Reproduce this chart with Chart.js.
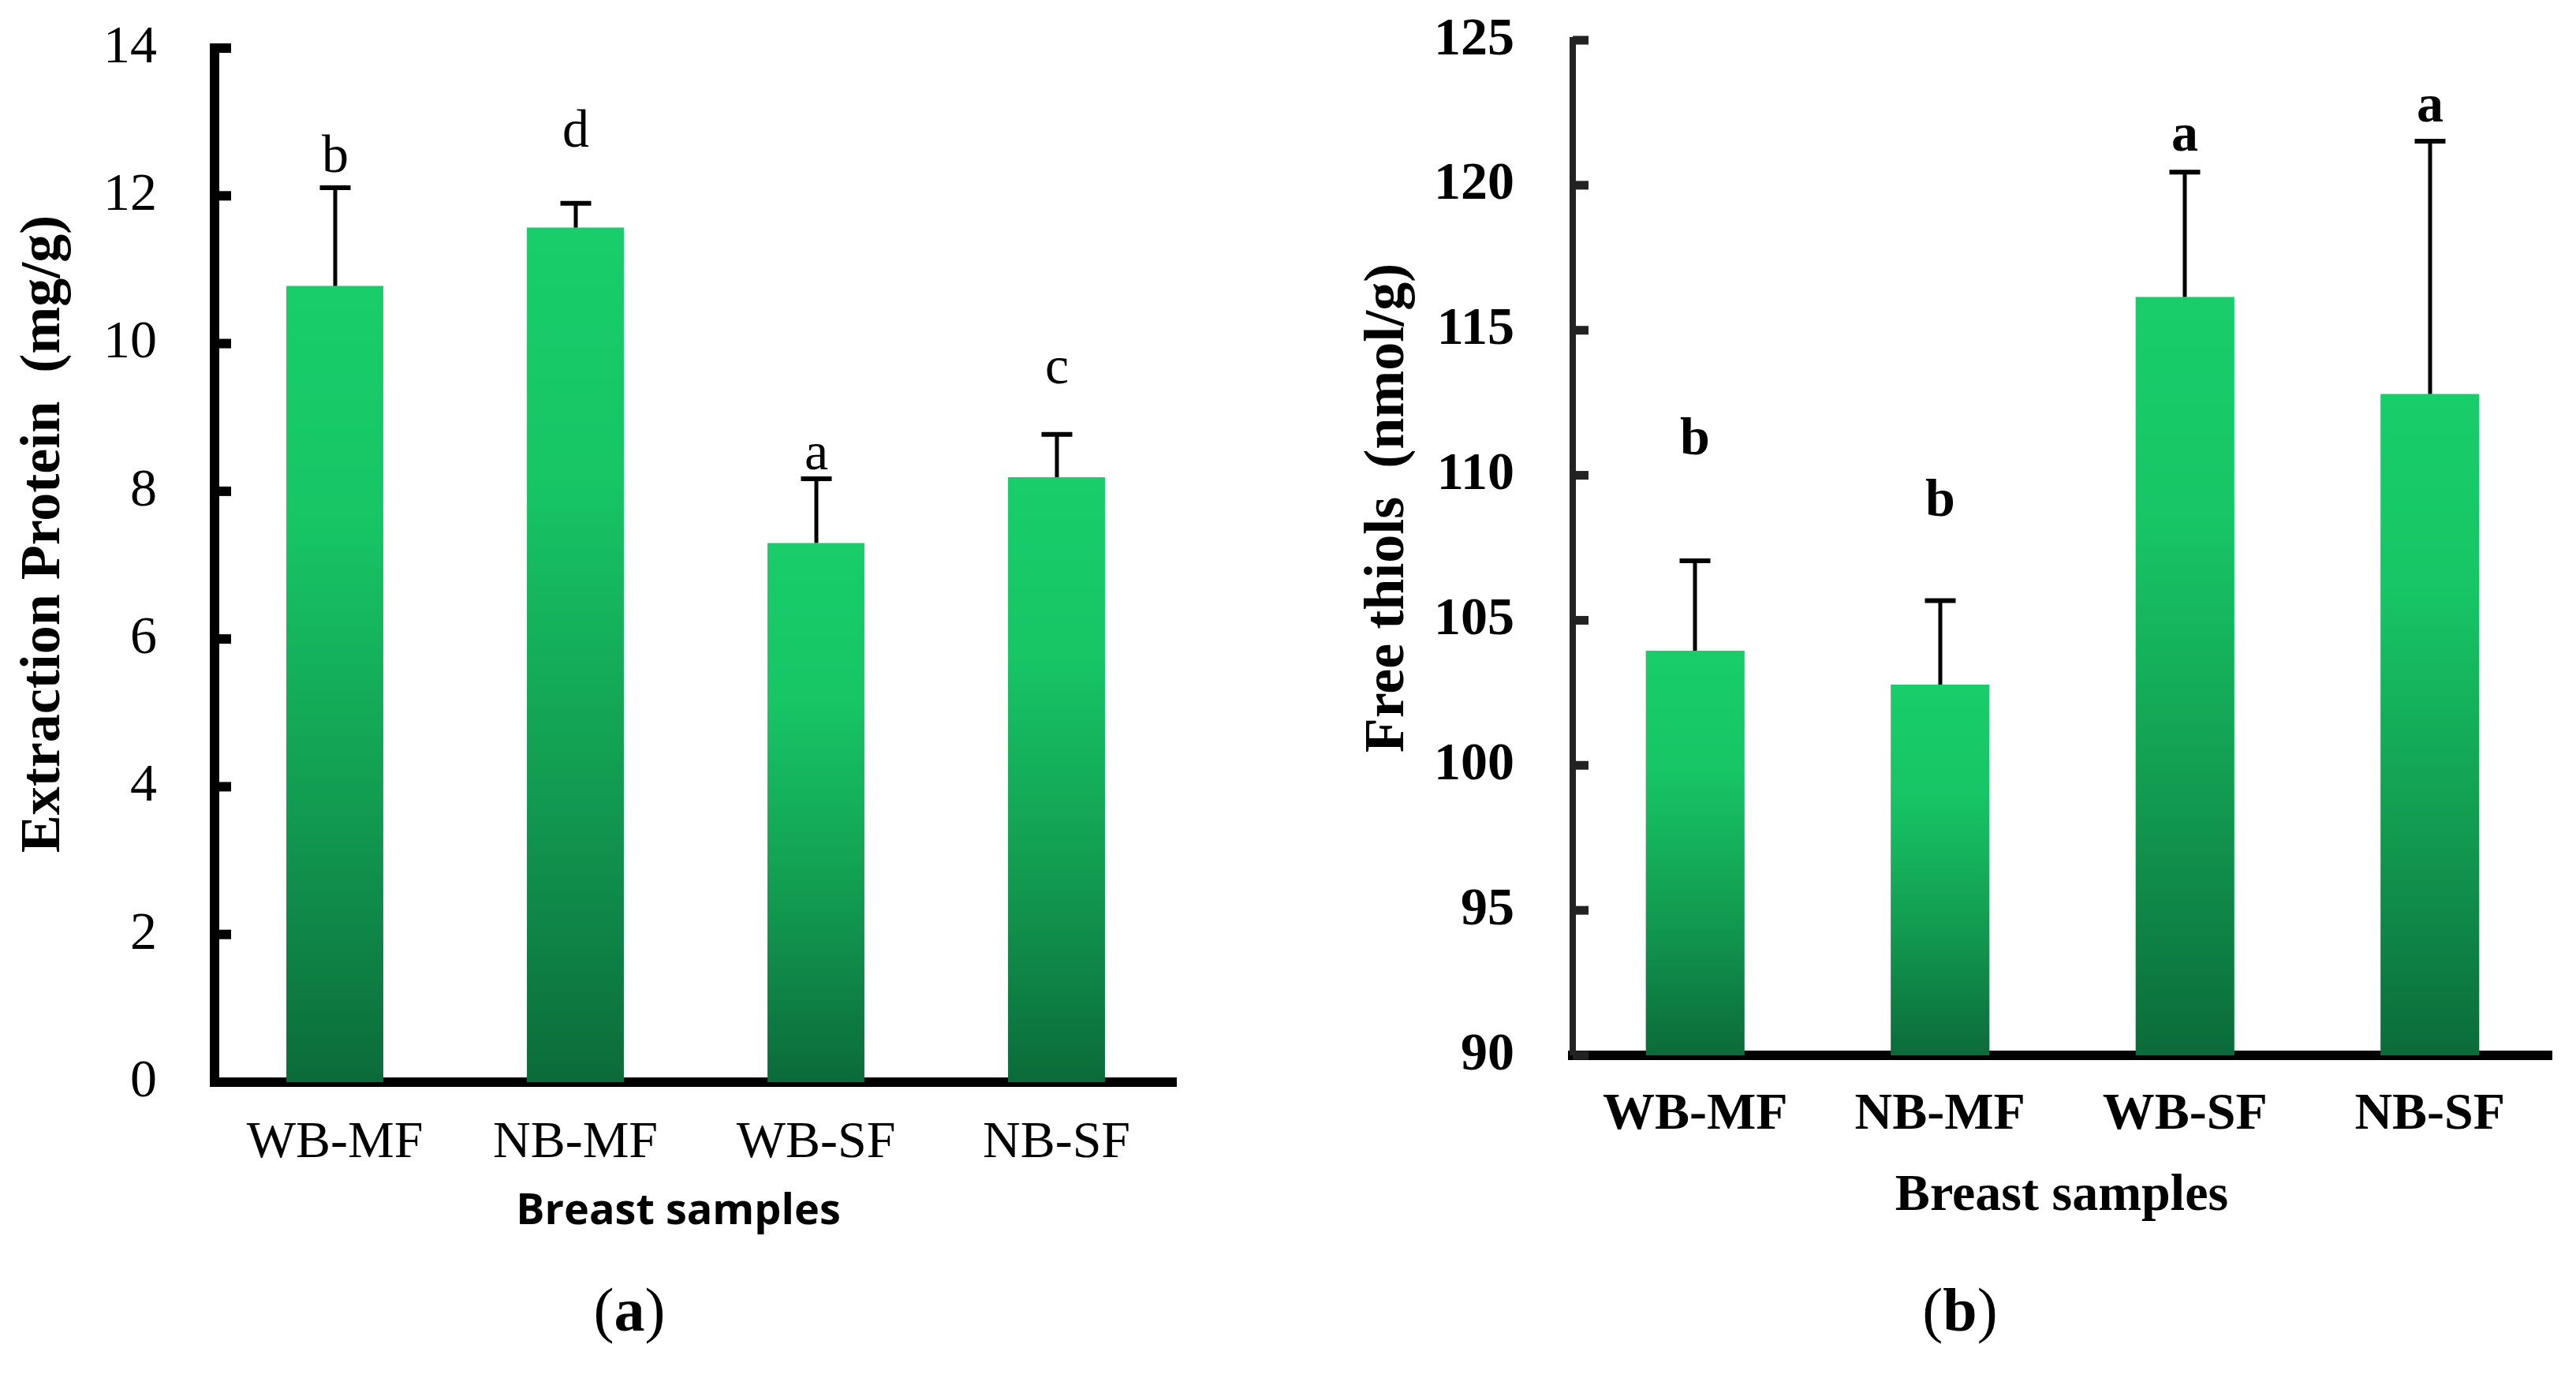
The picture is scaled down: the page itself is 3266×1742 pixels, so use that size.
<!DOCTYPE html>
<html><head><meta charset="utf-8">
<script src="https://cdn.jsdelivr.net/npm/chart.js@4.4.0/dist/chart.umd.min.js"></script>
<style>
html,body{margin:0;padding:0;background:#fff;}
#wrap{position:relative;width:3266px;height:1742px;background:#fff;}
canvas{position:absolute;top:0;}
#ca{left:0}
#cb{left:1633px}
</style></head><body>
<div id="wrap"><canvas id="ca" width="1633" height="1742"></canvas><canvas id="cb" width="1633" height="1742"></canvas></div>
<script>
const categories = ['WB-MF', 'NB-MF', 'WB-SF', 'NB-SF'];

const proteinValues = [10.78, 11.57, 7.30, 8.19];
const proteinErrors = [1.33, 0.33, 0.87, 0.58];
const proteinLetters = ['b', 'd', 'a', 'c'];
const proteinLetterY = [12.32, 12.66, 8.30, 9.46];
const proteinTicks = [0, 2, 4, 6, 8, 10, 12, 14];

const thiolValues = [103.95, 102.78, 116.15, 112.80];
const thiolErrors = [3.10, 2.90, 4.30, 8.72];
const thiolLetters = ['b', 'b', 'a', 'a'];
const thiolLetterY = [110.73, 108.60, 121.20, 122.20];
const thiolTicks = [90, 95, 100, 105, 110, 115, 120, 125];

const SERIF = '"Liberation Serif", "Times New Roman", serif';

function barGradient(c) {
  const chart = c.chart;
  if (!chart.chartArea || c.type !== 'data') return '#17C966';
  const ys = chart.scales.y;
  const top = ys.getPixelForValue(c.raw);
  const bot = ys.getPixelForValue(ys.min);
  const g = chart.ctx.createLinearGradient(0, top, 0, bot);
  g.addColorStop(0, '#18CD6A');
  g.addColorStop(0.3, '#17C565');
  g.addColorStop(0.65, '#129C51');
  g.addColorStop(1, '#0B6B3A');
  return g;
}

function decoPlugin(cfg) {
  return {
    id: 'deco',
    afterDatasetsDraw(chart) {
      const ctx = chart.ctx, ys = chart.scales.y, meta = chart.getDatasetMeta(0);
      ctx.save();
      ctx.strokeStyle = '#000';
      ctx.fillStyle = '#000';
      meta.data.forEach((bar, i) => {
        const x = Math.round(bar.x);
        const yv = ys.getPixelForValue(cfg.values[i]);
        const ye = ys.getPixelForValue(cfg.values[i] + cfg.errors[i]);
        ctx.lineWidth = 5;
        ctx.beginPath(); ctx.moveTo(x, yv); ctx.lineTo(x, ye); ctx.stroke();
        ctx.lineWidth = 6;
        ctx.beginPath(); ctx.moveTo(x - 19.5, ye); ctx.lineTo(x + 19.5, ye); ctx.stroke();
        ctx.font = cfg.letterFont;
        ctx.textAlign = 'center';
        ctx.textBaseline = 'alphabetic';
        ctx.fillText(cfg.letters[i], x, ys.getPixelForValue(cfg.letterY[i]));
      });
      ctx.restore();
    },
    afterDraw(chart) {
      const ctx = chart.ctx, ys = chart.scales.y, area = chart.chartArea;
      ctx.save();
      ctx.fillStyle = cfg.tickColor;
      ys.ticks.forEach((t, i) => {
        const y = ys.getPixelForTick(i);
        ctx.fillRect(area.left, y - cfg.tickThick / 2, cfg.tickLen, cfg.tickThick);
      });
      ctx.fillStyle = '#000';
      ctx.textAlign = 'center';
      ctx.textBaseline = 'middle';
      ctx.save();
      ctx.translate(cfg.yTitle.x, cfg.yTitle.y);
      ctx.rotate(-Math.PI / 2);
      ctx.font = cfg.yTitle.font;
      ctx.fillText(cfg.yTitle.text, 0, 0);
      ctx.restore();
      ctx.font = cfg.xTitle.font;
      ctx.fillText(cfg.xTitle.text, cfg.xTitle.x, cfg.xTitle.y);
      const cap = cfg.caption;
      const fReg = 'normal 78px ' + SERIF, fBold = 'bold 78px ' + SERIF;
      ctx.font = fReg; const wp = ctx.measureText('(').width, wq = ctx.measureText(')').width;
      ctx.font = fBold; const wl = ctx.measureText(cap.letter).width;
      const sx = cap.x - (wp + wl + wq) / 2;
      ctx.textAlign = 'left';
      ctx.font = fReg; ctx.fillText('(', sx, cap.y);
      ctx.font = fBold; ctx.fillText(cap.letter, sx + wp, cap.y);
      ctx.font = fReg; ctx.fillText(')', sx + wp + wl, cap.y);
      ctx.restore();
    }
  };
}

function makeChart(id, opt) {
  const t = opt.ticks;
  return new Chart(document.getElementById(id), {
    type: 'bar',
    data: {
      labels: categories,
      datasets: [{
        data: opt.values,
        backgroundColor: barGradient,
        borderWidth: 0,
        barPercentage: 0.403,
        categoryPercentage: 1.0
      }]
    },
    options: {
      responsive: false,
      animation: false,
      devicePixelRatio: 1,
      events: [],
      layout: { autoPadding: false, padding: opt.padding },
      plugins: { legend: { display: false }, tooltip: { enabled: false }, title: { display: false } },
      scales: {
        x: {
          z: 1,
          grid: { display: true, drawOnChartArea: false, drawTicks: true, tickLength: opt.xPad, tickColor: 'rgba(0,0,0,0)', lineWidth: 0 },
          border: { display: true, color: '#000', width: 12 },
          ticks: { font: { family: SERIF, size: 66, weight: opt.bold ? 'bold' : 'normal' }, color: '#000', padding: 0, maxRotation: 0, autoSkip: false },
          afterFit(s) { s.height = opt.xHeight; }
        },
        y: {
          z: 1,
          min: t[0],
          max: t[t.length - 1],
          grid: { display: true, drawOnChartArea: false, drawTicks: true, tickLength: opt.yPad, tickColor: 'rgba(0,0,0,0)', lineWidth: 0 },
          border: { display: true, color: opt.yAxisColor, width: opt.yAxisWidth },
          ticks: { stepSize: t[1] - t[0], font: { family: SERIF, size: 68, weight: opt.bold ? 'bold' : 'normal' }, color: '#000', padding: 0 },
          afterFit(s) { s.width = opt.yWidth; }
        }
      }
    },
    plugins: [decoPlugin(opt.deco)]
  });
}

makeChart('ca', {
  values: proteinValues,
  ticks: proteinTicks,
  bold: false,
  padding: { left: 0, top: 61, right: 141, bottom: 0 },
  xHeight: 370, yWidth: 272, xPad: 38, yPad: 73,
  yAxisColor: '#000', yAxisWidth: 12,
  deco: {
    values: proteinValues, errors: proteinErrors, letters: proteinLetters, letterY: proteinLetterY,
    letterFont: 'normal 68px ' + SERIF,
    tickColor: '#000', tickThick: 12, tickLen: 21,
    yTitle: { text: 'Extraction Protein  (mg/g)', x: 56, y: 677, font: 'bold 72px ' + SERIF },
    xTitle: { text: 'Breast samples', x: 860, y: 1537, font: 'bold 54px "Open Sans", "Noto Sans", sans-serif' },
    caption: { letter: 'a', x: 798, y: 1667 }
  }
});

makeChart('cb', {
  values: thiolValues,
  ticks: thiolTicks,
  bold: true,
  padding: { left: 0, top: 51, right: 30, bottom: 0 },
  xHeight: 404, yWidth: 361, xPad: 36, yPad: 74,
  yAxisColor: '#222', yAxisWidth: 8,
  deco: {
    values: thiolValues, errors: thiolErrors, letters: thiolLetters, letterY: thiolLetterY,
    letterFont: 'bold 68px ' + SERIF,
    tickColor: '#222', tickThick: 11, tickLen: 20,
    yTitle: { text: 'Free thiols  (nmol/g)', x: 127, y: 644, font: 'bold 72px ' + SERIF },
    xTitle: { text: 'Breast samples', x: 981, y: 1517, font: 'bold 66px ' + SERIF },
    caption: { letter: 'b', x: 852, y: 1667 }
  }
});
</script>
</body></html>
